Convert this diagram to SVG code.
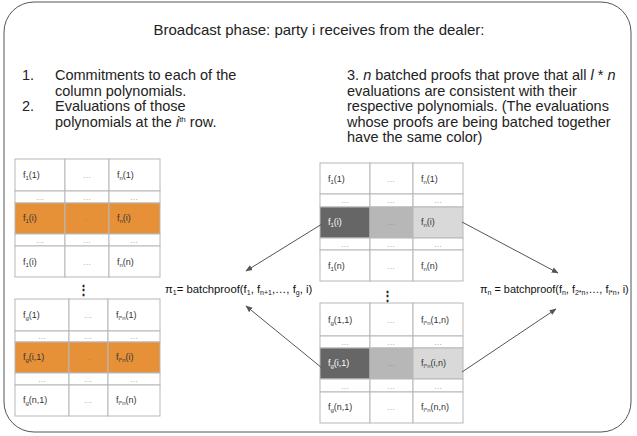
<svg xmlns="http://www.w3.org/2000/svg" width="637" height="436" viewBox="0 0 637 436">
<defs>
<style>
.frame{fill:#fff;stroke:#555;stroke-width:1}
.cell{fill:#fff;stroke:#b7b7b7;stroke-width:1}
.or{fill:#e69138;stroke:#b7b7b7;stroke-width:1}
.dk{fill:#666;stroke:#b7b7b7;stroke-width:1}
.md{fill:#b7b7b7;stroke:#b7b7b7;stroke-width:1}
.lt{fill:#d9d9d9;stroke:#b7b7b7;stroke-width:1}
text{font-family:"Liberation Sans",Arial,sans-serif;fill:#222}
tspan{fill:inherit}
.t{font-size:9px;fill:#333}
.tw{font-size:9px;fill:#fff}
.s{font-size:6px}
.ls{font-size:7px}
.e{font-size:8px;fill:#888;text-anchor:middle}
.body{font-size:14.5px}
.lbl{font-size:11.3px;fill:#111}
.lbl2{font-size:10.9px;fill:#111}
.conn{stroke:#555;stroke-width:1;fill:none;marker-end:url(#ah)}
</style>
<marker id="ah" viewBox="0 0 10 10" refX="9" refY="5" markerWidth="7" markerHeight="7" orient="auto" markerUnits="userSpaceOnUse">
<path d="M0,1 L10,5 L0,9 z" fill="#555"/>
</marker>
</defs>
<rect class="frame" x="4" y="2" width="627" height="430" rx="30" ry="30"/>
<text x="319" y="35" font-size="15" text-anchor="middle">Broadcast phase: party i receives from the dealer:</text>
<g id="list-left">
<text class="body" x="22" y="80">1.</text>
<text class="body" x="55" y="80">Commitments to each of the</text>
<text class="body" x="55" y="96">column polynomials.</text>
<text class="body" x="22" y="111">2.</text>
<text class="body" x="55" y="111">Evaluations of those</text>
<text class="body" x="55" y="127">polynomials at the <tspan font-style="italic">i</tspan><tspan font-size="8" dy="-5">th</tspan><tspan dy="5"> row.</tspan></text>
</g>
<g id="list-right">
<text class="body" x="347" y="80">3. <tspan font-style="italic">n</tspan> batched proofs that prove that all <tspan font-style="italic">l</tspan> * <tspan font-style="italic">n</tspan></text>
<text class="body" x="347" y="96">evaluations are consistent with their</text>
<text class="body" x="347" y="111">respective polynomials. (The evaluations</text>
<text class="body" x="347" y="127">whose proofs are being batched together</text>
<text class="body" x="347" y="142">have the same color)</text>
</g>

<g id="table-left-top">
<rect class="cell" x="15" y="159" width="50" height="32"/><rect class="cell" x="65" y="159" width="44" height="32"/><rect class="cell" x="109" y="159" width="51" height="32"/>
<rect class="cell" x="15" y="191" width="50" height="12"/><rect class="cell" x="65" y="191" width="44" height="12"/><rect class="cell" x="109" y="191" width="51" height="12"/>
<rect class="or" x="15" y="203" width="50" height="31"/><rect class="or" x="65" y="203" width="44" height="31"/><rect class="or" x="109" y="203" width="51" height="31"/>
<rect class="cell" x="15" y="234" width="50" height="12"/><rect class="cell" x="65" y="234" width="44" height="12"/><rect class="cell" x="109" y="234" width="51" height="12"/>
<rect class="cell" x="15" y="246" width="50" height="31"/><rect class="cell" x="65" y="246" width="44" height="31"/><rect class="cell" x="109" y="246" width="51" height="31"/>
<text class="t" x="23" y="178">f<tspan class="s" dy="2">1</tspan><tspan dy="-2">(1)</tspan></text>
<text class="e" x="87" y="178">…</text>
<text class="t" x="117" y="178">f<tspan class="s" dy="2">n</tspan><tspan dy="-2">(1)</tspan></text>
<text class="e" x="40" y="200">…</text><text class="e" x="87" y="200">…</text><text class="e" x="134" y="200">…</text>
<text class="t" x="23" y="221">f<tspan class="s" dy="2">1</tspan><tspan dy="-2">(i)</tspan></text>
<text class="e" x="87" y="221">…</text>
<text class="t" x="117" y="221">f<tspan class="s" dy="2">n</tspan><tspan dy="-2">(i)</tspan></text>
<text class="e" x="40" y="243">…</text><text class="e" x="87" y="243">…</text><text class="e" x="134" y="243">…</text>
<text class="t" x="23" y="265">f<tspan class="s" dy="2">1</tspan><tspan dy="-2">(i)</tspan></text>
<text class="e" x="87" y="265">…</text>
<text class="t" x="117" y="265">f<tspan class="s" dy="2">n</tspan><tspan dy="-2">(n)</tspan></text>
</g>
<text x="83" y="294" font-size="13" text-anchor="middle" font-weight="bold">⋮</text>

<g id="table-left-bottom">
<rect class="cell" x="15" y="299" width="54" height="32"/><rect class="cell" x="69" y="299" width="39" height="32"/><rect class="cell" x="108" y="299" width="52" height="32"/>
<rect class="cell" x="15" y="331" width="54" height="11"/><rect class="cell" x="69" y="331" width="39" height="11"/><rect class="cell" x="108" y="331" width="52" height="11"/>
<rect class="or" x="15" y="342" width="54" height="31"/><rect class="or" x="69" y="342" width="39" height="31"/><rect class="or" x="108" y="342" width="52" height="31"/>
<rect class="cell" x="15" y="373" width="54" height="12"/><rect class="cell" x="69" y="373" width="39" height="12"/><rect class="cell" x="108" y="373" width="52" height="12"/>
<rect class="cell" x="15" y="385" width="54" height="31"/><rect class="cell" x="69" y="385" width="39" height="31"/><rect class="cell" x="108" y="385" width="52" height="31"/>
<text class="t" x="23" y="318">f<tspan class="s" dy="2">g</tspan><tspan dy="-2">(1)</tspan></text>
<text class="e" x="88" y="318">…</text>
<text class="t" x="116" y="318">f<tspan class="s" dy="2">l*n</tspan><tspan dy="-2">(1)</tspan></text>
<text class="e" x="42" y="339">…</text><text class="e" x="88" y="339">…</text><text class="e" x="134" y="339">…</text>
<text class="t" x="23" y="360">f<tspan class="s" dy="2">g</tspan><tspan dy="-2">(i,1)</tspan></text>
<text class="e" x="88" y="360">…</text>
<text class="t" x="116" y="360">f<tspan class="s" dy="2">l*n</tspan><tspan dy="-2">(i)</tspan></text>
<text class="e" x="42" y="382">…</text><text class="e" x="88" y="382">…</text><text class="e" x="134" y="382">…</text>
<text class="t" x="23" y="403">f<tspan class="s" dy="2">g</tspan><tspan dy="-2">(n,1)</tspan></text>
<text class="e" x="88" y="403">…</text>
<text class="t" x="116" y="403">f<tspan class="s" dy="2">l*n</tspan><tspan dy="-2">(n)</tspan></text>
</g>

<g id="table-right-top">
<rect class="cell" x="320" y="163" width="50" height="31"/><rect class="cell" x="370" y="163" width="43" height="31"/><rect class="cell" x="413" y="163" width="50" height="31"/>
<rect class="cell" x="320" y="194" width="50" height="13"/><rect class="cell" x="370" y="194" width="43" height="13"/><rect class="cell" x="413" y="194" width="50" height="13"/>
<rect class="dk" x="320" y="207" width="50" height="31"/><rect class="md" x="370" y="207" width="43" height="31"/><rect class="lt" x="413" y="207" width="50" height="31"/>
<rect class="cell" x="320" y="238" width="50" height="12"/><rect class="cell" x="370" y="238" width="43" height="12"/><rect class="cell" x="413" y="238" width="50" height="12"/>
<rect class="cell" x="320" y="250" width="50" height="31"/><rect class="cell" x="370" y="250" width="43" height="31"/><rect class="cell" x="413" y="250" width="50" height="31"/>
<text class="t" x="328" y="182">f<tspan class="s" dy="2">1</tspan><tspan dy="-2">(1)</tspan></text>
<text class="e" x="391" y="182">…</text>
<text class="t" x="421" y="182">f<tspan class="s" dy="2">n</tspan><tspan dy="-2">(1)</tspan></text>
<text class="e" x="345" y="203">…</text><text class="e" x="391" y="203">…</text><text class="e" x="438" y="203">…</text>
<text class="tw" x="328" y="225">f<tspan class="s" dy="2">1</tspan><tspan dy="-2">(i)</tspan></text>
<text class="e" x="391" y="225">…</text>
<text class="t" x="421" y="225">f<tspan class="s" dy="2">n</tspan><tspan dy="-2">(i)</tspan></text>
<text class="e" x="345" y="247">…</text><text class="e" x="391" y="247">…</text><text class="e" x="438" y="247">…</text>
<text class="t" x="328" y="269">f<tspan class="s" dy="2">1</tspan><tspan dy="-2">(n)</tspan></text>
<text class="e" x="391" y="269">…</text>
<text class="t" x="421" y="269">f<tspan class="s" dy="2">n</tspan><tspan dy="-2">(n)</tspan></text>
</g>
<text x="387" y="300" font-size="13" text-anchor="middle" font-weight="bold">⋮</text>

<g id="table-right-bottom">
<rect class="cell" x="320" y="303" width="50" height="33"/><rect class="cell" x="370" y="303" width="43" height="33"/><rect class="cell" x="413" y="303" width="50" height="33"/>
<rect class="cell" x="320" y="336" width="50" height="12"/><rect class="cell" x="370" y="336" width="43" height="12"/><rect class="cell" x="413" y="336" width="50" height="12"/>
<rect class="dk" x="320" y="348" width="50" height="31"/><rect class="md" x="370" y="348" width="43" height="31"/><rect class="lt" x="413" y="348" width="50" height="31"/>
<rect class="cell" x="320" y="379" width="50" height="13"/><rect class="cell" x="370" y="379" width="43" height="13"/><rect class="cell" x="413" y="379" width="50" height="13"/>
<rect class="cell" x="320" y="392" width="50" height="31"/><rect class="cell" x="370" y="392" width="43" height="31"/><rect class="cell" x="413" y="392" width="50" height="31"/>
<text class="t" x="328" y="323">f<tspan class="s" dy="2">g</tspan><tspan dy="-2">(1,1)</tspan></text>
<text class="e" x="391" y="323">…</text>
<text class="t" x="421" y="323">f<tspan class="s" dy="2">l*n</tspan><tspan dy="-2">(1,n)</tspan></text>
<text class="e" x="345" y="345">…</text><text class="e" x="391" y="345">…</text><text class="e" x="438" y="345">…</text>
<text class="tw" x="328" y="366">f<tspan class="s" dy="2">g</tspan><tspan dy="-2">(i,1)</tspan></text>
<text class="e" x="391" y="366">…</text>
<text class="t" x="421" y="366">f<tspan class="s" dy="2">l*n</tspan><tspan dy="-2">(i,n)</tspan></text>
<text class="e" x="345" y="389">…</text><text class="e" x="391" y="389">…</text><text class="e" x="438" y="389">…</text>
<text class="t" x="328" y="410">f<tspan class="s" dy="2">g</tspan><tspan dy="-2">(n,1)</tspan></text>
<text class="e" x="391" y="410">…</text>
<text class="t" x="421" y="410">f<tspan class="s" dy="2">l*n</tspan><tspan dy="-2">(n,n)</tspan></text>
</g>

<g id="label-pi1">
<text class="lbl" x="165" y="293">π<tspan class="ls" dy="2">1</tspan><tspan dy="-2">= batchproof(f</tspan><tspan class="ls" dy="2">1</tspan><tspan dy="-2">, f</tspan><tspan class="ls" dy="2">n+1</tspan><tspan dy="-2">,…, f</tspan><tspan class="ls" dy="2">g</tspan><tspan dy="-2">, i)</tspan></text>
</g>
<g id="label-pin">
<text class="lbl2" x="480" y="293">π<tspan class="ls" dy="2">n</tspan><tspan dy="-2"> = batchproof(f</tspan><tspan class="ls" dy="2">n</tspan><tspan dy="-2">, f</tspan><tspan class="ls" dy="2">2*n</tspan><tspan dy="-2">,…, f</tspan><tspan class="ls" dy="2">l*n</tspan><tspan dy="-2">, i)</tspan></text>
</g>

<g id="connectors">
<line class="conn" x1="322" y1="224" x2="246" y2="271"/>
<line class="conn" x1="322" y1="368" x2="246" y2="306"/>
<line class="conn" x1="462" y1="222" x2="558" y2="273"/>
<line class="conn" x1="462" y1="372" x2="556" y2="309"/>
</g>
</svg>
